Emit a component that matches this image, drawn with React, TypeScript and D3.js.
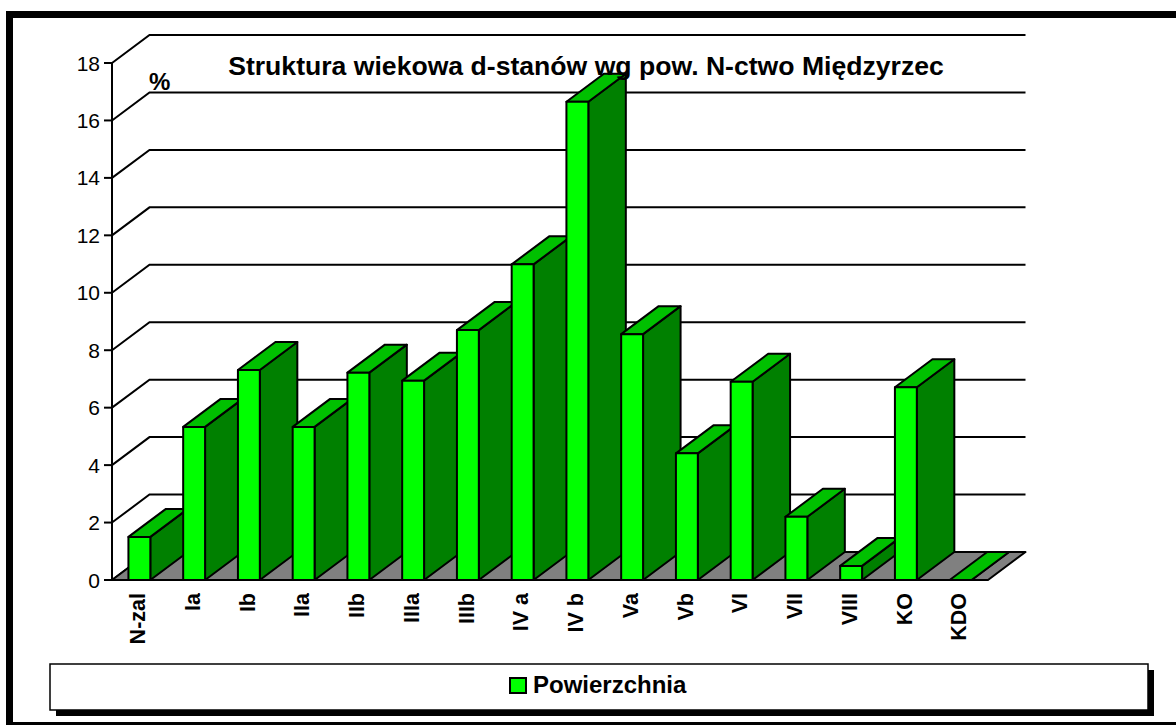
import * as d3 from "d3";
import React, { useRef, useEffect } from "react";

const categories = ["N-zal", "Ia", "Ib", "IIa", "IIb", "IIIa", "IIIb", "IV a", "IV b", "Va", "Vb", "VI", "VII", "VIII", "KO", "KDO"];
const powierzchnia = [1.5, 5.33, 7.31, 5.33, 7.22, 6.94, 8.7, 10.99, 16.65, 8.56, 4.41, 6.9, 2.2, 0.49, 6.71, 0];
const yTicks = [0, 2, 4, 6, 8, 10, 12, 14, 16, 18];

const FONT = "'Liberation Sans', Arial, Helvetica, sans-serif";

const App = () => {
  const ref = useRef<SVGSVGElement>(null);

  useEffect(() => {
    const svg = d3.select(ref.current);
    svg.selectAll("*").remove();

    const left = 112, right = 988, bottom = 580, top = 63;
    const dx = 37.5, dy = -28;

    const xScale = d3.scaleBand<string>()
      .domain(categories)
      .range([left, right])
      .paddingInner(0.6)
      .paddingOuter(0.3);

    const yScale = d3.scaleLinear().domain([0, 18]).range([bottom, top]);

    // outer frame
    svg.append("rect")
      .attr("x", 9.5).attr("y", 14.5)
      .attr("width", 1200).attr("height", 711)
      .attr("fill", "white")
      .attr("stroke", "black")
      .attr("stroke-width", 7);

    // gridlines (side wall + back wall)
    svg.append("g")
      .selectAll("path")
      .data(yTicks)
      .join("path")
      .attr("d", d => {
        const y = yScale(d);
        return `M${left},${y}L${left + dx},${y + dy}L${right + dx},${y + dy}`;
      })
      .attr("fill", "none")
      .attr("stroke", "black")
      .attr("stroke-width", 2);

    // floor
    svg.append("path")
      .attr("d", `M${left},${bottom}L${right},${bottom}L${right + dx},${bottom + dy}L${left + dx},${bottom + dy}Z`)
      .attr("fill", "#808080")
      .attr("stroke", "black")
      .attr("stroke-width", 2)
      .attr("stroke-linejoin", "round");

    // y axis
    const yAxis = svg.append("g");
    yAxis.append("line")
      .attr("x1", left).attr("x2", left)
      .attr("y1", yScale(0)).attr("y2", yScale(18))
      .attr("stroke", "black").attr("stroke-width", 2);
    yAxis.selectAll("line.tick")
      .data(yTicks)
      .join("line")
      .attr("class", "tick")
      .attr("x1", left - 8).attr("x2", left)
      .attr("y1", d => yScale(d)).attr("y2", d => yScale(d))
      .attr("stroke", "black").attr("stroke-width", 2);
    yAxis.selectAll("text")
      .data(yTicks)
      .join("text")
      .attr("x", left - 12)
      .attr("y", d => yScale(d))
      .attr("dy", "0.36em")
      .attr("text-anchor", "end")
      .attr("font-family", FONT)
      .attr("font-size", 21)
      .text(d => d);

    // bars
    const w = xScale.bandwidth();
    const bars = svg.append("g")
      .selectAll("g")
      .data(categories.map((c, i) => ({ c, v: powierzchnia[i] })))
      .join("g")
      .attr("stroke", "black")
      .attr("stroke-width", 2)
      .attr("stroke-linejoin", "round");

    bars.append("path")
      .attr("fill", "#008000")
      .attr("d", d => {
        const x1 = xScale(d.c)! + w, yt = yScale(d.v), yb = yScale(0);
        return `M${x1},${yb}L${x1 + dx},${yb + dy}L${x1 + dx},${yt + dy}L${x1},${yt}Z`;
      });
    bars.append("path")
      .attr("fill", "#00C000")
      .attr("d", d => {
        const x0 = xScale(d.c)!, yt = yScale(d.v);
        return `M${x0},${yt}L${x0 + dx},${yt + dy}L${x0 + w + dx},${yt + dy}L${x0 + w},${yt}Z`;
      });
    bars.append("rect")
      .attr("fill", "#00FF00")
      .attr("x", d => xScale(d.c)!)
      .attr("y", d => yScale(d.v))
      .attr("width", w)
      .attr("height", d => yScale(0) - yScale(d.v));

    // category labels
    svg.append("g")
      .selectAll("text")
      .data(categories)
      .join("text")
      .attr("transform", d => `translate(${xScale(d)! + w / 2 - 2},${bottom + 13}) rotate(-90)`)
      .attr("dy", "0.36em")
      .attr("text-anchor", "end")
      .attr("font-family", FONT)
      .attr("font-weight", "bold")
      .attr("font-size", 21.5)
      .text(d => d);

    // title and unit
    svg.append("text")
      .attr("x", 586).attr("y", 75)
      .attr("text-anchor", "middle")
      .attr("font-family", FONT)
      .attr("font-weight", "bold")
      .attr("font-size", 26.6)
      .text("Struktura wiekowa d-stanów wg pow. N-ctwo Międzyrzec");
    svg.append("text")
      .attr("x", 149).attr("y", 90)
      .attr("font-family", FONT)
      .attr("font-weight", "bold")
      .attr("font-size", 24)
      .text("%");

    // legend
    const legend = svg.append("g");
    legend.append("rect")
      .attr("x", 56).attr("y", 670)
      .attr("width", 1098).attr("height", 46)
      .attr("fill", "black");
    legend.append("rect")
      .attr("x", 50).attr("y", 664)
      .attr("width", 1098).attr("height", 46)
      .attr("fill", "white")
      .attr("stroke", "black")
      .attr("stroke-width", 1.5);
    legend.append("rect")
      .attr("x", 510).attr("y", 678)
      .attr("width", 16).attr("height", 15)
      .attr("fill", "#00FF00")
      .attr("stroke", "black")
      .attr("stroke-width", 2);
    legend.append("text")
      .attr("x", 533).attr("y", 693)
      .attr("font-family", FONT)
      .attr("font-weight", "bold")
      .attr("font-size", 24)
      .text("Powierzchnia");
  }, []);

  return (
    <svg
      ref={ref}
      width={1176}
      height={725}
      style={{ position: "absolute", left: 0, top: 0, display: "block" }}
    />
  );
};

export default App;
